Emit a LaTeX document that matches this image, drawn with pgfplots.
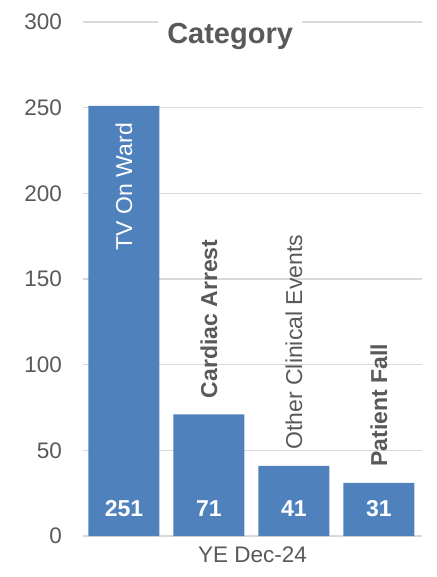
\documentclass[border=0pt]{standalone}
\usepackage{fontspec}
\setmainfont{Liberation Sans}
\usepackage{pgfplots}
\usepackage{pgfplotstable}
\pgfplotsset{compat=1.18}
\definecolor{barblue}{RGB}{79,129,189}
\definecolor{txtgray}{RGB}{89,89,89}
\definecolor{gridgray}{RGB}{217,217,217}

% Incident counts by category, year ending Dec-24
\pgfplotstableread[col sep=comma]{
x,v,name
0,251,TV On Ward
1,71,Cardiac Arrest
2,41,Other Clinical Events
3,31,Patient Fall
}\incidents

\begin{document}
\begin{tikzpicture}
\useasboundingbox (-83pt,-41pt) rectangle (353pt,536pt);
\begin{axis}[
  at={(0pt,0pt)}, anchor=south west,
  scale only axis, width=339pt, height=514pt,
  xmin=-0.482, xmax=3.506, ymin=0, ymax=300,
  ytick={0,50,...,300}, xtick=\empty,
  ymajorgrids, grid style={gridgray, line width=1.3pt},
  axis line style={draw=none}, major tick length=0pt,
  tick label style={font=\fontsize{22.5}{27}\selectfont, text=txtgray},
  /pgf/number format/assume math mode=true,
  yticklabel style={inner sep=0pt, xshift=-21pt},
  xlabel={YE Dec-24},
  xlabel style={at={(axis description cs:0.5,0)}, anchor=base, yshift=-26pt,
    font=\fontsize{22.5}{27}\selectfont, text=txtgray},
  title={Category},
  title style={at={(axis description cs:0.434,1)}, anchor=base, yshift=-28pt,
    fill=white, inner xsep=9pt, font=\bfseries\fontsize{29}{34}\selectfont, text=txtgray},
  clip=false,
]
% bars
\addplot[ybar, bar width=71pt, bar shift=0pt, fill=barblue, draw=none]
  table[x=x, y=v] {\incidents};
% value labels near the base of each bar
\addplot[draw=none, mark=none, nodes near coords, point meta=explicit,
  every node near coord/.style={anchor=center, yshift=27pt, text=white,
    font=\bfseries\fontsize{23}{27}\selectfont}]
  table[x=x, y expr=0, meta=v] {\incidents};
% category names, rotated
\addplot[draw=none, mark=none, nodes near coords, point meta=explicit symbolic,
  skip coords between index={1}{4},
  every node near coord/.style={yshift=-17pt, rotate=90, anchor=east, inner sep=0pt,
    text=white, font=\fontsize{23}{27}\selectfont}]
  table[x=x, y=v, meta=name] {\incidents};
\addplot[draw=none, mark=none, nodes near coords, point meta=explicit symbolic,
  skip coords between index={0}{1}, skip coords between index={2}{3},
  every node near coord/.style={yshift=16pt, rotate=90, anchor=west, inner sep=0pt,
    text=txtgray, font=\bfseries\fontsize{23}{27}\selectfont}]
  table[x=x, y=v, meta=name] {\incidents};
\addplot[draw=none, mark=none, nodes near coords, point meta=explicit symbolic,
  skip coords between index={0}{2}, skip coords between index={3}{4},
  every node near coord/.style={yshift=16pt, rotate=90, anchor=west, inner sep=0pt,
    text=txtgray, font=\fontsize{23}{27}\selectfont}]
  table[x=x, y=v, meta=name] {\incidents};
\end{axis}
\end{tikzpicture}
\end{document}
